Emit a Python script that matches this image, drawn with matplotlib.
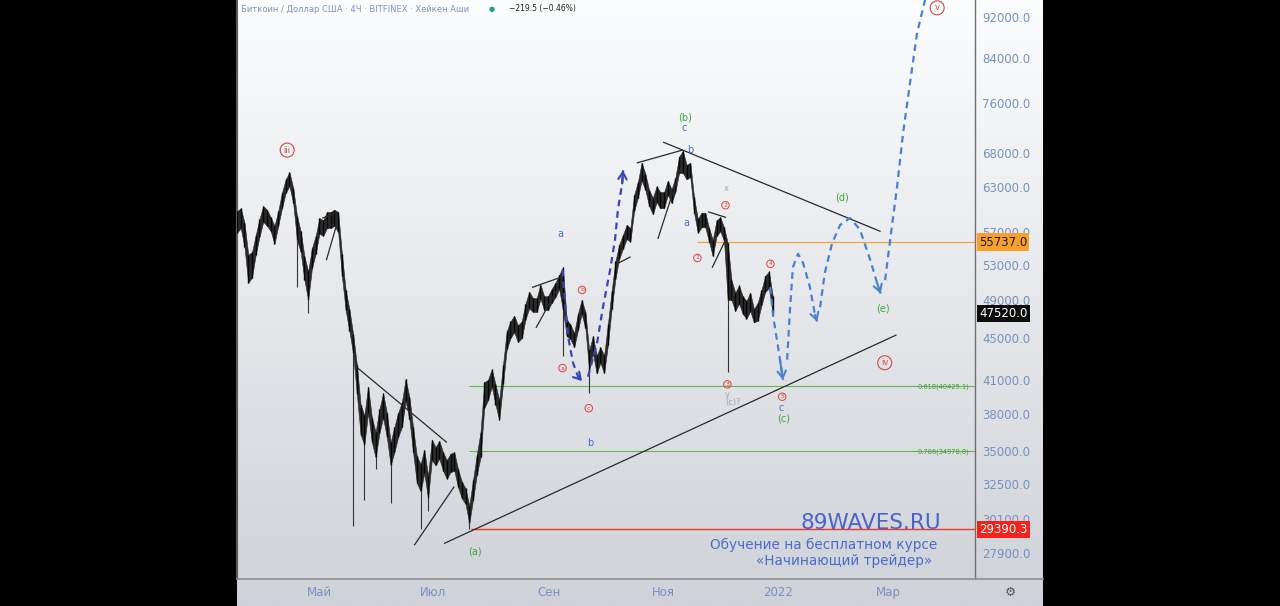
import matplotlib
matplotlib.use('Agg')
import matplotlib.pyplot as plt
import matplotlib.dates as mdates
import matplotlib.transforms as mtrans
from matplotlib.lines import Line2D
from matplotlib.ticker import NullLocator
import numpy as np
import pandas as pd

plt.rcParams['font.family'] = ['DejaVu Sans']


def dn(s):
    if isinstance(s, str):
        return mdates.date2num(pd.Timestamp(s))
    return mdates.date2num(pd.to_datetime(s, format='mixed'))


# Heiken Ashi 4h band, read as one high/low pair every 2 days
candle_start = '2021-03-18 05:00'
highs = [59700, 60100, 58200, 54200, 54500, 56600, 58700, 60400, 59900, 58900,
         57800, 59700, 62200, 64100, 65100, 62900, 59100, 57100, 54000, 52200,
         55000, 56500, 58800, 58500, 59600, 59600, 59900, 59600, 54300, 50100,
         48000, 45400, 42400, 38800, 37900, 40400, 37700, 36500, 38400, 39800,
         38100, 35700, 36900, 38100, 39000, 41100, 39500, 36900, 34600, 34000,
         35100, 33100, 35900, 35300, 35800, 34900, 34300, 34800, 34900, 33600,
         32700, 32200, 31000, 32800, 34700, 36500, 40800, 41000, 42000, 40600,
         39200, 42400, 45700, 46700, 47300, 46300, 46700, 48600, 49900, 49200,
         49200, 50700, 49400, 49400, 50200, 50900, 51800, 52700, 46900, 46400,
         45500, 47500, 49000, 47700, 43800, 45200, 43300, 44100, 43300, 46400,
         50000, 53400, 55400, 56600, 57900, 57500, 61900, 63700, 66500, 64900,
         62600, 61500, 63100, 62300, 62300, 63900, 62700, 64300, 67400, 68300,
         66200, 66500, 61600, 58700, 59500, 59500, 57500, 56000, 58500, 58900,
         57600, 55600, 51200, 49800, 50600, 49400, 48900, 49800, 48000, 48700,
         50100, 51700, 52200, 49400]
lows = [56900, 57500, 55100, 50900, 51500, 54200, 56400, 58300, 57800, 57100,
        55500, 57800, 60100, 62200, 63100, 60800, 56000, 54500, 51200, 49000,
        52600, 54300, 56800, 56500, 57500, 57500, 57800, 57000, 51700, 47900,
        45700, 43500, 39700, 36300, 35500, 38100, 35700, 34500, 36400, 37700,
        36100, 33900, 34900, 36100, 36900, 39100, 37600, 34900, 32600, 32000,
        33300, 31500, 34300, 33900, 34400, 33500, 32900, 33400, 33500, 32300,
        31500, 31100, 29800, 31400, 33200, 34500, 38500, 39200, 40400, 38800,
        37500, 40600, 43900, 45000, 45600, 44600, 45000, 46900, 48100, 47700,
        47700, 49100, 47900, 47900, 48700, 49300, 50200, 47900, 45200, 44900,
        44100, 45800, 47500, 46000, 41900, 43500, 41600, 42600, 41600, 44300,
        48000, 51300, 53700, 54900, 56100, 55800, 59700, 61500, 63900, 62600,
        60400, 59300, 60900, 60100, 60100, 61900, 60800, 62300, 65000, 65000,
        64100, 64400, 59500, 56900, 57600, 57600, 55800, 54000, 56500, 57100,
        55900, 49000, 49000, 47800, 48600, 47500, 47000, 47800, 46600, 46800,
        48400, 49900, 50300, 47500]
wick_idx = [16, 19, 31, 34, 37, 41, 49, 51, 62, 87, 94, 131]
wick_low = [50400, 47600, 29600, 31400, 33600, 31200, 29400, 30600, 29400, 43200, 39800, 41700]

# hand-drawn trend lines: two dates, two prices
trend_lines = [
    (['2021-07-07', '2022-03-05'], [28500, 45300]),
    (['2021-05-21', '2021-07-08'], [42200, 35700]),
    (['2021-06-21', '2021-07-12'], [28400, 32300]),
    (['2021-05-03', '2021-05-10'], [58800, 59500]),
    (['2021-05-05', '2021-05-10'], [53600, 57600]),
    (['2021-08-23', '2021-09-08'], [50400, 51600]),
    (['2021-08-25', '2021-09-05'], [46100, 50100]),
    (['2021-10-08', '2021-10-14'], [53200, 53900]),
    (['2021-10-18', '2021-11-11'], [66500, 68400]),
    (['2021-10-29', '2021-11-11'], [56200, 66500]),
    (['2021-11-01', '2022-02-24 12:00'], [69600, 57100]),
    (['2021-11-25', '2021-12-04'], [59600, 58900]),
    (['2021-11-27', '2021-12-04'], [52700, 56000]),
]

# horizontal levels
level_orange = 55737.0
level_orange_from = '2021-11-19'
fib_levels = [40425.1, 34978.8]
fib_names = ['0.618(40425.1)', '0.786(34978.8)']
fib_from = '2021-07-20'
low_level = 29390.3
low_level_from = '2021-07-21'
last_price = 47520.0

# projected paths (dashed arrows)
sep_paths = [
    (['2021-09-08', '2021-09-09 08:00', '2021-09-11', '2021-09-13 14:00',
      '2021-09-16 08:00', '2021-09-18 10:00'],
     [52400, 48700, 45100, 42600, 41300, 40900]),
    (['2021-09-21 14:00', '2021-09-26 10:00', '2021-09-29 14:00', '2021-10-03 10:00',
      '2021-10-06', '2021-10-07 14:00', '2021-10-09 20:00', '2021-10-10 08:00'],
     [41300, 44500, 48200, 52400, 56000, 59900, 63500, 65400]),
]
future_paths = [
    (['2021-12-27 20:00', '2021-12-29 10:00', '2021-12-31 12:00', '2022-01-02 02:00',
      '2022-01-03 17:00'],
     [50400, 47300, 44800, 42900, 41000]),
    (['2022-01-05 22:00', '2022-01-07 12:00', '2022-01-09', '2022-01-11 17:00',
      '2022-01-14 10:00', '2022-01-18 02:00', '2022-01-20 19:00', '2022-01-21 22:00'],
     [42900, 48200, 52700, 54300, 53200, 50400, 47400, 46700]),
    (['2022-01-23 12:00', '2022-01-26', '2022-01-29 22:00', '2022-02-03 05:00',
      '2022-02-08 12:00', '2022-02-13 19:00', '2022-02-19 05:00', '2022-02-22 22:00',
      '2022-02-24 20:00'],
     [48200, 52000, 55600, 57900, 58800, 57300, 53600, 50900, 49700]),
]
final_leg = (['2022-02-27 05:00', '2022-03-01 22:00', '2022-03-05 14:00', '2022-03-08 19:00',
              '2022-03-12 12:00', '2022-03-16 07:00', '2022-03-20 12:00', '2022-03-21 12:00'],
             [51200, 56000, 63000, 71000, 79400, 88800, 95500, 97000])

# wave labels
blue_labels = [('a', '2021-09-07', 56800), ('b', '2021-09-23', 35600),
               ('c', '2021-11-12', 71900), ('b', '2021-11-15', 68400),
               ('a', '2021-11-13', 58200), ('c', '2022-01-03', 38500)]
green_labels = [('(a)', '2021-07-23', 28000), ('(b)', '2021-11-12 10:00', 73500),
                ('(c)', '2022-01-04', 37600), ('(d)', '2022-02-04', 61500),
                ('(e)', '2022-02-26', 48100)]
gray_labels = [('x', '2021-12-04 08:00', 62800), ('y', '2021-12-05', 39700),
               ('(c)?', '2021-12-08', 39000)]
big_circles = [('iii', '2021-04-14', 68400), ('iv', '2022-02-27', 42600),
               ('v', '2022-03-27', 93900)]
small_circles = [('a', '2021-09-08', 42100), ('b', '2021-09-18 10:00', 50100),
                 ('c', '2021-09-22', 38500), ('1', '2021-11-19', 53800),
                 ('2', '2021-12-04', 60500), ('3', '2021-12-05', 40600),
                 ('4', '2021-12-28', 53100), ('5', '2022-01-03 06:00', 39500)]

price_ticks = [27900, 30100, 32500, 35000, 38000, 41000, 45000, 49000,
               53000, 57000, 63000, 68000, 76000, 84000, 92000]
month_ticks = ['2021-05-01', '2021-07-01', '2021-09-01', '2021-11-01', '2022-01-01', '2022-03-01']
month_names = ['Май', 'Июл', 'Сен', 'Ноя', '2022', 'Мар']

W, H = 1280, 606
fig = plt.figure(figsize=(12.8, 6.06), dpi=100, facecolor='black')

# soft gradient background of the chart panel
bg = fig.add_axes([237 / W, 0, (1043 - 237) / W, 1])
top = np.array([252, 253, 254]) / 255
bot = np.array([207, 210, 216]) / 255
t = np.linspace(0, 1, 300)[:, None]
img = (top * (1 - t) + bot * t).reshape(300, 1, 3)
bg.imshow(img, aspect='auto', extent=[0, 1, 0, 1])
bg.axis('off')

ax = fig.add_axes([237 / W, 27 / H, (975 - 237) / W, 579 / H])
ax.set_facecolor('none')
ax.set_yscale('log')
x_left, x_right = dn('2021-03-18 05:00'), dn('2022-04-16 05:00')
ax.set_xlim(x_left, x_right)
ax.set_ylim(26320, 95550)

# candles: dense band from low to high with darker bars on top
cdates = mdates.date2num(pd.date_range(candle_start, periods=len(highs), freq='2D'))
ax.fill_between(cdates, lows, highs, color='#2b2b2b', lw=0.4, zorder=3)
ax.vlines(cdates, lows, highs, color='#050505', lw=1.0, zorder=3)
ax.vlines(cdates[wick_idx], wick_low, np.array(lows)[wick_idx], color='#333333', lw=0.8, zorder=3)

# trend lines
for d, p in trend_lines:
    ax.plot(dn(d), p, color='#2a2a2a', lw=0.9, zorder=4)

# levels
ax.hlines(level_orange, dn(level_orange_from), x_right, color='#f5a43a', lw=0.9, zorder=2)
for lv, name in zip(fib_levels, fib_names):
    ax.hlines(lv, dn(fib_from), x_right, color='#63b84f', lw=0.8, zorder=2)
    ax.text(0.993, lv, name, transform=mtrans.blended_transform_factory(ax.transAxes, ax.transData),
            ha='right', va='center', fontsize=4.8, color='#3f9a35', zorder=5)
ax.hlines(low_level, dn(low_level_from), x_right, color='#e53935', lw=1.0, zorder=2)


# dashed projections with arrow heads
def dashed(paths, color):
    for d, p in paths:
        xs = dn(d)
        ax.plot(xs, p, color=color, lw=1.6, ls=(0, (3, 2.2)), zorder=5)
        ax.annotate('', xy=(xs[-1], p[-1]), xytext=(xs[-2], p[-2]),
                    arrowprops=dict(arrowstyle='->,head_length=0.5,head_width=0.3',
                                    color=color, lw=1.5, shrinkA=0, shrinkB=0), zorder=5)


dashed(sep_paths, '#3a44b8')
dashed(future_paths, '#4a80d0')
ax.plot(dn(final_leg[0]), final_leg[1], color='#4a80d0', lw=1.6, ls=(0, (3, 2.2)), zorder=5)

# labels
for s, d, p in blue_labels:
    ax.text(dn(d), p, s, fontsize=7, color='#3f6fc4', ha='center', va='center', zorder=6)
for s, d, p in green_labels:
    ax.text(dn(d), p, s, fontsize=7, color='#3ea33a', ha='center', va='center', zorder=6)
for s, d, p in gray_labels:
    ax.text(dn(d), p, s, fontsize=6, color='#a8a8a8', ha='center', va='center', zorder=6)
for s, d, p in big_circles:
    ax.text(dn(d), p, s, fontsize=6, color='#cc4a44', ha='center', va='center', zorder=6,
            bbox=dict(boxstyle='circle,pad=0.3', fc='none', ec='#cc4a44', lw=0.8))
for s, d, p in small_circles:
    ax.text(dn(d), p, s, fontsize=4.5, color='#d9443c', ha='center', va='center', zorder=6,
            bbox=dict(boxstyle='circle,pad=0.2', fc='none', ec='#d9443c', lw=0.7))

# axes
ax.yaxis.tick_right()
ax.set_yticks(price_ticks)
ax.set_yticklabels(['%.1f' % v for v in price_ticks])
ax.yaxis.set_minor_locator(NullLocator())
ax.set_xticks(dn(month_ticks))
ax.set_xticklabels(month_names)
ax.tick_params(axis='y', length=0, pad=5, labelsize=8.5, labelcolor='#7890c0')
ax.tick_params(axis='x', length=0, pad=5, labelsize=8.5, labelcolor='#7890c0')
ax.spines['top'].set_visible(False)
ax.spines['bottom'].set_visible(False)
ax.spines['left'].set_color('#5a5a5a')
ax.spines['left'].set_linewidth(1.5)
ax.spines['right'].set_color('#707070')
ax.spines['right'].set_linewidth(1.0)
fig.add_artist(Line2D([237 / W, 1043 / W], [27 / H, 27 / H], color='#8c8f94', lw=1.2))

# price tags on the scale
tag_tr = mtrans.blended_transform_factory(ax.transAxes, ax.transData)
for val, fc, tc in [(level_orange, '#f7a12b', '#1a1a1a'), (last_price, '#0c0c0c', 'white'),
                    (low_level, '#f2231c', 'white')]:
    ax.text(1.0 + 4 / 738, val, '%.1f' % val, transform=tag_tr, ha='left', va='center',
            fontsize=8.5, color=tc, zorder=7, clip_on=False,
            bbox=dict(boxstyle='square,pad=0.18', fc=fc, ec='none'))

# header and watermark
fig.text(241 / W, 1 - 9 / H, 'Биткоин / Доллар США · 4Ч · BITFINEX · Хейкен Аши',
         fontsize=6, color='#7f93bb', va='center')
fig.text(492 / W, 1 - 9 / H, '●', fontsize=5, color='#1f9e89', va='center', ha='center')
fig.text(509 / W, 1 - 9 / H, '−219.5 (−0.46%)', fontsize=5.5, color='#222222', va='center')
fig.text(871 / W, 1 - 523 / H, '89WAVES.RU', fontsize=15.5, color='#4a62c9', ha='center', va='center')
fig.text(824 / W, 1 - 545 / H, 'Обучение на бесплатном курсе', fontsize=9.8, color='#4d6bcc',
         ha='center', va='center')
fig.text(932 / W, 1 - 561 / H, '«Начинающий трейдер»', fontsize=9.8, color='#4d6bcc',
         ha='right', va='center')
fig.text(1010 / W, 1 - 592 / H, '⚙', fontsize=9, color='#555555', ha='center', va='center')

fig.savefig('out.png', dpi=100, facecolor='black')
